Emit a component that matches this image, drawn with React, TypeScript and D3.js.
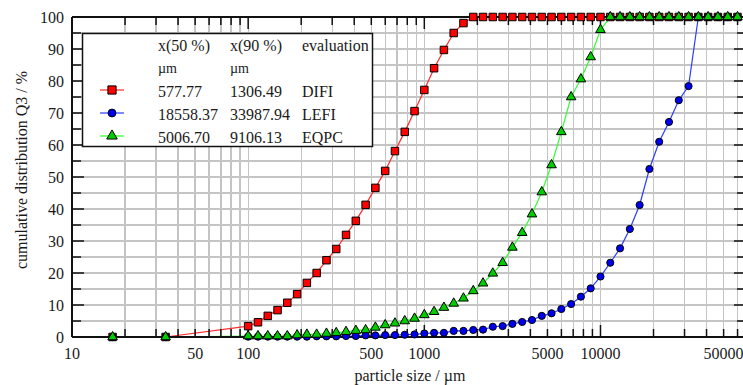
import { useEffect, useRef } from 'react'
import * as d3 from 'd3'

// particle size classes (µm)
const sizes = [
  17, 34,
  100, 113.7, 129.2, 146.8, 166.8, 189.6, 215.4, 244.8, 278.3, 316.2,
  359.4, 408.4, 464.2, 527.5, 599.5, 681.3, 774.3, 880.0, 1000, 1136,
  1292, 1468, 1668, 1896, 2154, 2448, 2783, 3162, 3594, 4084,
  4642, 5275, 5995, 6813, 7743, 8799, 10000, 11365, 12915, 14678,
  16681, 18957, 21544, 24484, 27826, 31623, 35938, 40842, 46416, 52749,
  59948,
]

// cumulative Q3 in %
const difi = [
  0, 0,
  3.4, 4.6, 6.6, 8.4, 10.7, 13.4, 16.9, 20.0, 24.0, 27.5,
  31.9, 36.3, 41.3, 46.6, 51.9, 58.1, 64.1, 70.6, 77.2, 84.0,
  89.7, 95.0, 98.1, 100, 100, 100, 100, 100, 100, 100,
  100, 100, 100, 100, 100, 100, 100, 100, 100, 100,
  100, 100, 100, 100, 100, 100, 100, 100, 100, 100,
  100,
]

const lefi = [
  0, 0,
  0.1, 0.1, 0.1, 0.1, 0.1, 0.1, 0.1, 0.2, 0.2, 0.2,
  0.3, 0.3, 0.5, 0.5, 0.6, 0.6, 0.7, 0.8, 1.1, 1.3,
  1.3, 1.9, 1.9, 2.2, 2.3, 3.2, 3.4, 4.1, 4.7, 5.3,
  6.6, 7.4, 8.75, 10.3, 12.6, 15.2, 18.9, 23.2, 27.7, 33.75,
  41.25, 52.5, 61.0, 67.2, 74.0, 78.4, 100, 100, 100, 100,
  100,
]

const eqpc = [
  0, 0,
  0.3, 0.3, 0.3, 0.3, 0.3, 0.6, 0.8, 0.8, 1.1, 1.3,
  1.65, 2.0, 2.2, 3.0, 3.75, 4.3, 5.0, 5.8, 6.9, 7.9,
  9.2, 10.5, 12.1, 14.4, 16.8, 19.9, 23.2, 28.0, 32.6, 38.4,
  45.3, 53.75, 64.1, 75.0, 80.6, 87.5, 96.0, 100, 100, 100,
  100, 100, 100, 100, 100, 100, 100, 100, 100, 100,
  100,
]

const evaluations = ['DIFI', 'LEFI', 'EQPC']
const x50Labels = ['577.77', '18558.37', '5006.70']
const x90Labels = ['1306.49', '33987.94', '9106.13']

const xTickLabels = [10, 50, 100, 500, 1000, 5000, 10000, 50000]
const yTickLabels = [0, 10, 20, 30, 40, 50, 60, 70, 80, 90, 100]

const FONT = "'Liberation Serif', 'Times New Roman', serif"

function ParticleChart() {
  const svgRef = useRef<SVGSVGElement>(null)

  useEffect(() => {
    if (!svgRef.current) return
    const root = d3.select(svgRef.current)
    root.selectAll('*').remove()

    const left = 72, right = 746, top = 17, bottom = 337

    const x = d3.scaleLog().domain([10, 67000]).range([left, right])
    const y = d3.scaleLinear().domain([0, 100]).range([bottom, top])

    // minor values 1..9 per decade
    const minorX: number[] = []
    for (let p = 10; p <= 10000; p *= 10) {
      for (let m = 1; m <= 9; m++) if (p * m <= 67000) minorX.push(p * m)
    }
    const gridY = d3.range(0, 101, 5)

    // grid
    const grid = root.append('g').attr('shape-rendering', 'crispEdges')
    grid.selectAll('.vx')
      .data(minorX)
      .enter()
      .append('line')
      .attr('x1', d => x(d))
      .attr('x2', d => x(d))
      .attr('y1', top)
      .attr('y2', bottom)
      .attr('stroke', '#c4c4c4')
      .attr('stroke-width', 1.3)
    grid.selectAll('.hy')
      .data(gridY)
      .enter()
      .append('line')
      .attr('x1', left)
      .attr('x2', right)
      .attr('y1', d => y(d))
      .attr('y2', d => y(d))
      .attr('stroke', '#c4c4c4')
      .attr('stroke-width', 1.3)

    const series = [
      { values: difi, line: '#ff2a2a', fill: '#ff0000', symbol: d3.symbolSquare, size: 56 },
      { values: lefi, line: '#2a3cff', fill: '#0000f0', symbol: d3.symbolCircle, size: 40 },
      { values: eqpc, line: '#30ff30', fill: '#00cc00', symbol: d3.symbolTriangle, size: 40 },
    ]

    // lines first, the frame covers the zero stretch
    const line = d3.line<number>()
      .x((_, i) => x(sizes[i]))
      .y(d => y(d))
    series.forEach(s => {
      root.append('path')
        .datum(s.values)
        .attr('fill', 'none')
        .attr('stroke', s.line)
        .attr('stroke-width', 1.2)
        .attr('d', line)
    })

    // frame
    const frame = root.append('g').attr('stroke', '#111').attr('stroke-width', 2)
    frame.append('line').attr('x1', left).attr('x2', right).attr('y1', bottom).attr('y2', bottom)
    frame.append('line').attr('x1', left).attr('x2', right).attr('y1', top).attr('y2', top)
    frame.append('line').attr('x1', left).attr('x2', left).attr('y1', top).attr('y2', bottom)
    frame.append('line').attr('x1', right).attr('x2', right).attr('y1', top).attr('y2', bottom)

    // ticks, pointing inward
    const isMajorX = (d: number) => Math.abs(Math.log10(d) - Math.round(Math.log10(d))) < 1e-9
    const ticks = root.append('g').attr('stroke', '#111').attr('stroke-width', 1.5)
    minorX.forEach(d => {
      const len = isMajorX(d) ? 12 : 8
      ticks.append('line').attr('x1', x(d)).attr('x2', x(d)).attr('y1', bottom).attr('y2', bottom - len)
      ticks.append('line').attr('x1', x(d)).attr('x2', x(d)).attr('y1', top).attr('y2', top + len)
    })
    gridY.forEach(d => {
      const len = d % 10 === 0 ? 12 : 9
      ticks.append('line').attr('x1', left).attr('x2', left + len).attr('y1', y(d)).attr('y2', y(d))
      ticks.append('line').attr('x1', right).attr('x2', right - len).attr('y1', y(d)).attr('y2', y(d))
    })

    // markers
    series.forEach(s => {
      const sym = d3.symbol().type(s.symbol).size(s.size)
      root.append('g')
        .selectAll('path')
        .data(s.values)
        .enter()
        .append('path')
        .attr('transform', (d, i) => `translate(${x(sizes[i])},${y(d)})`)
        .attr('d', sym)
        .attr('fill', s.fill)
        .attr('stroke', '#000')
        .attr('stroke-width', 1)
    })

    // tick labels
    root.append('g')
      .selectAll('text')
      .data(xTickLabels)
      .enter()
      .append('text')
      .attr('x', d => x(d))
      .attr('y', 359)
      .attr('text-anchor', 'middle')
      .style('font-family', FONT)
      .style('font-size', '16px')
      .style('fill', '#1a1a1a')
      .text(d => String(d))

    root.append('g')
      .selectAll('text')
      .data(yTickLabels)
      .enter()
      .append('text')
      .attr('x', 64)
      .attr('y', d => y(d) + 5.5)
      .attr('text-anchor', 'end')
      .style('font-family', FONT)
      .style('font-size', '16px')
      .style('fill', '#1a1a1a')
      .text(d => String(d))

    // axis titles
    root.append('text')
      .attr('x', 410)
      .attr('y', 381)
      .attr('text-anchor', 'middle')
      .style('font-family', FONT)
      .style('font-size', '16px')
      .style('fill', '#1a1a1a')
      .text('particle size / µm')

    root.append('text')
      .attr('transform', 'translate(27,170) rotate(-90)')
      .attr('text-anchor', 'middle')
      .style('font-family', FONT)
      .style('font-size', '16px')
      .style('fill', '#1a1a1a')
      .text('cumulative distribution Q3 / %')

    // legend box
    const lg = root.append('g')
    lg.append('rect')
      .attr('x', 82.5)
      .attr('y', 33.5)
      .attr('width', 290)
      .attr('height', 113)
      .attr('fill', '#fff')
      .attr('stroke', '#111')
      .attr('stroke-width', 1.5)

    const txt = (tx: number, ty: number, s: string, size = 16) =>
      lg.append('text')
        .attr('x', tx)
        .attr('y', ty)
        .style('font-family', FONT)
        .style('font-size', `${size}px`)
        .style('fill', '#1a1a1a')
        .text(s)

    txt(158, 51, 'x(50 %)')
    txt(230, 51, 'x(90 %)')
    txt(302, 51, 'evaluation')
    txt(158, 73, 'µm', 14)
    txt(230, 73, 'µm', 14)

    const rowY = [90, 113, 136]
    series.forEach((s, i) => {
      lg.append('line')
        .attr('x1', 100)
        .attr('x2', 124)
        .attr('y1', rowY[i])
        .attr('y2', rowY[i])
        .attr('stroke', s.line)
        .attr('stroke-width', 1.2)
      lg.append('path')
        .attr('transform', `translate(112,${rowY[i]})`)
        .attr('d', d3.symbol().type(s.symbol).size(s.size * 1.2)())
        .attr('fill', s.fill)
        .attr('stroke', '#000')
        .attr('stroke-width', 1)
      txt(158, rowY[i] + 7, x50Labels[i])
      txt(230, rowY[i] + 7, x90Labels[i])
      txt(302, rowY[i] + 7, evaluations[i])
    })
  }, [])

  return (
    <svg
      ref={svgRef}
      width={743}
      height={385}
      style={{ position: 'absolute', left: 0, top: 0, background: '#fff' }}
    />
  )
}

export default function App() {
  return <ParticleChart />
}
